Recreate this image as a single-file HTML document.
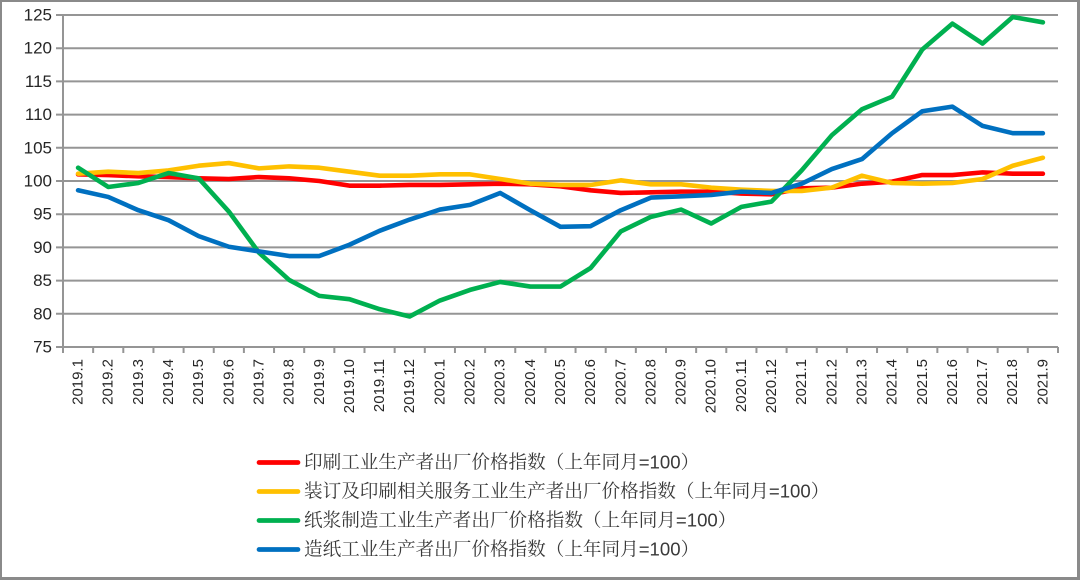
<!DOCTYPE html>
<html>
<head>
<meta charset="utf-8">
<style>
  html,body{margin:0;padding:0;background:#fff;}
  .wrap{position:relative;width:1080px;height:580px;overflow:hidden;background:#fff;}
  .frame{position:absolute;left:0;top:0;width:1075px;height:575px;border-left:2px solid #8a8a8a;border-top:2px solid #8a8a8a;border-right:3px solid #8a8a8a;border-bottom:3px solid #8a8a8a;}
  svg{position:absolute;left:0;top:0;}
</style>
</head>
<body>
<div class="wrap">
<svg width="1080" height="580" viewBox="0 0 1080 580" xmlns="http://www.w3.org/2000/svg">
  <g stroke="#959595" stroke-width="2" fill="none">
    <line x1="56" y1="15" x2="1058" y2="15"/>
    <line x1="56" y1="48.2" x2="1058" y2="48.2"/>
    <line x1="56" y1="81.4" x2="1058" y2="81.4"/>
    <line x1="56" y1="114.6" x2="1058" y2="114.6"/>
    <line x1="56" y1="147.8" x2="1058" y2="147.8"/>
    <line x1="56" y1="181" x2="1058" y2="181"/>
    <line x1="56" y1="214.2" x2="1058" y2="214.2"/>
    <line x1="56" y1="247.4" x2="1058" y2="247.4"/>
    <line x1="56" y1="280.6" x2="1058" y2="280.6"/>
    <line x1="56" y1="313.8" x2="1058" y2="313.8"/>
    <line x1="56" y1="347" x2="1058" y2="347"/>
    <line x1="63" y1="15" x2="63" y2="353"/>
  </g>
  <g stroke="#959595" stroke-width="2">
    <line x1="93.15" y1="347" x2="93.15" y2="353"/>
    <line x1="123.3" y1="347" x2="123.3" y2="353"/>
    <line x1="153.45" y1="347" x2="153.45" y2="353"/>
    <line x1="183.6" y1="347" x2="183.6" y2="353"/>
    <line x1="213.75" y1="347" x2="213.75" y2="353"/>
    <line x1="243.9" y1="347" x2="243.9" y2="353"/>
    <line x1="274.05" y1="347" x2="274.05" y2="353"/>
    <line x1="304.2" y1="347" x2="304.2" y2="353"/>
    <line x1="334.35" y1="347" x2="334.35" y2="353"/>
    <line x1="364.5" y1="347" x2="364.5" y2="353"/>
    <line x1="394.65" y1="347" x2="394.65" y2="353"/>
    <line x1="424.8" y1="347" x2="424.8" y2="353"/>
    <line x1="454.95" y1="347" x2="454.95" y2="353"/>
    <line x1="485.1" y1="347" x2="485.1" y2="353"/>
    <line x1="515.25" y1="347" x2="515.25" y2="353"/>
    <line x1="545.4" y1="347" x2="545.4" y2="353"/>
    <line x1="575.55" y1="347" x2="575.55" y2="353"/>
    <line x1="605.7" y1="347" x2="605.7" y2="353"/>
    <line x1="635.85" y1="347" x2="635.85" y2="353"/>
    <line x1="666" y1="347" x2="666" y2="353"/>
    <line x1="696.15" y1="347" x2="696.15" y2="353"/>
    <line x1="726.3" y1="347" x2="726.3" y2="353"/>
    <line x1="756.45" y1="347" x2="756.45" y2="353"/>
    <line x1="786.6" y1="347" x2="786.6" y2="353"/>
    <line x1="816.75" y1="347" x2="816.75" y2="353"/>
    <line x1="846.9" y1="347" x2="846.9" y2="353"/>
    <line x1="877.05" y1="347" x2="877.05" y2="353"/>
    <line x1="907.2" y1="347" x2="907.2" y2="353"/>
    <line x1="937.35" y1="347" x2="937.35" y2="353"/>
    <line x1="967.5" y1="347" x2="967.5" y2="353"/>
    <line x1="997.65" y1="347" x2="997.65" y2="353"/>
    <line x1="1027.8" y1="347" x2="1027.8" y2="353"/>
    <line x1="1058" y1="347" x2="1058" y2="353"/>
  </g>
  <g font-family="Liberation Sans, sans-serif" font-size="17" fill="#262626" text-anchor="end" dominant-baseline="central">
    <text x="52" y="15">125</text>
    <text x="52" y="48.2">120</text>
    <text x="52" y="81.4">115</text>
    <text x="52" y="114.6">110</text>
    <text x="52" y="147.8">105</text>
    <text x="52" y="181">100</text>
    <text x="52" y="214.2">95</text>
    <text x="52" y="247.4">90</text>
    <text x="52" y="280.6">85</text>
    <text x="52" y="313.8">80</text>
    <text x="52" y="347">75</text>
  </g>
  <g font-family="Liberation Sans, sans-serif" font-size="15" fill="#262626" text-anchor="end" dominant-baseline="central">
    <text transform="translate(78.1,359) rotate(-90)">2019.1</text>
    <text transform="translate(108.2,359) rotate(-90)">2019.2</text>
    <text transform="translate(138.4,359) rotate(-90)">2019.3</text>
    <text transform="translate(168.5,359) rotate(-90)">2019.4</text>
    <text transform="translate(198.7,359) rotate(-90)">2019.5</text>
    <text transform="translate(228.8,359) rotate(-90)">2019.6</text>
    <text transform="translate(259,359) rotate(-90)">2019.7</text>
    <text transform="translate(289.1,359) rotate(-90)">2019.8</text>
    <text transform="translate(319.3,359) rotate(-90)">2019.9</text>
    <text transform="translate(349.4,359) rotate(-90)">2019.10</text>
    <text transform="translate(379.6,359) rotate(-90)">2019.11</text>
    <text transform="translate(409.7,359) rotate(-90)">2019.12</text>
    <text transform="translate(439.9,359) rotate(-90)">2020.1</text>
    <text transform="translate(470,359) rotate(-90)">2020.2</text>
    <text transform="translate(500.2,359) rotate(-90)">2020.3</text>
    <text transform="translate(530.3,359) rotate(-90)">2020.4</text>
    <text transform="translate(560.5,359) rotate(-90)">2020.5</text>
    <text transform="translate(590.6,359) rotate(-90)">2020.6</text>
    <text transform="translate(620.8,359) rotate(-90)">2020.7</text>
    <text transform="translate(650.9,359) rotate(-90)">2020.8</text>
    <text transform="translate(681.1,359) rotate(-90)">2020.9</text>
    <text transform="translate(711.2,359) rotate(-90)">2020.10</text>
    <text transform="translate(741.4,359) rotate(-90)">2020.11</text>
    <text transform="translate(771.5,359) rotate(-90)">2020.12</text>
    <text transform="translate(801.7,359) rotate(-90)">2021.1</text>
    <text transform="translate(831.8,359) rotate(-90)">2021.2</text>
    <text transform="translate(862,359) rotate(-90)">2021.3</text>
    <text transform="translate(892.1,359) rotate(-90)">2021.4</text>
    <text transform="translate(922.3,359) rotate(-90)">2021.5</text>
    <text transform="translate(952.4,359) rotate(-90)">2021.6</text>
    <text transform="translate(982.6,359) rotate(-90)">2021.7</text>
    <text transform="translate(1012.7,359) rotate(-90)">2021.8</text>
    <text transform="translate(1042.9,359) rotate(-90)">2021.9</text>
  </g>
  <g transform="matrix(30.15 0 0 -6.64 78.08 845)" fill="none" stroke-linejoin="round" stroke-linecap="round">
    <polyline vector-effect="non-scaling-stroke" stroke="#FF0000" stroke-width="4.6"
      points="0,101.0 1,100.9 2,100.7 3,100.6 4,100.4 5,100.3 6,100.6 7,100.4 8,100.0 9,99.3 10,99.3 11,99.4 12,99.4 13,99.5 14,99.6 15,99.5 16,99.2 17,98.6 18,98.2 19,98.3 20,98.4 21,98.4 22,98.1 23,98.0 24,98.9 25,99.0 26,99.6 27,99.9 28,100.9 29,100.9 30,101.3 31,101.1 32,101.1"/>
    <polyline vector-effect="non-scaling-stroke" stroke="#FFC000" stroke-width="4.6"
      points="0,101.1 1,101.4 2,101.2 3,101.6 4,102.3 5,102.7 6,101.9 7,102.2 8,102.0 9,101.4 10,100.8 11,100.8 12,101.0 13,101.0 14,100.3 15,99.6 16,99.4 17,99.4 18,100.1 19,99.5 20,99.5 21,99.0 22,98.7 23,98.5 24,98.5 25,99.0 26,100.8 27,99.7 28,99.6 29,99.7 30,100.3 31,102.3 32,103.5"/>
    <polyline vector-effect="non-scaling-stroke" stroke="#00B050" stroke-width="4.6"
      points="0,102.0 1,99.1 2,99.7 3,101.2 4,100.4 5,95.4 6,89.2 7,85.1 8,82.7 9,82.2 10,80.7 11,79.6 12,82.0 13,83.6 14,84.8 15,84.1 16,84.1 17,86.9 18,92.4 19,94.6 20,95.7 21,93.6 22,96.1 23,96.9 24,101.6 25,106.9 26,110.8 27,112.7 28,119.8 29,123.7 30,120.7 31,124.7 32,123.9"/>
    <polyline vector-effect="non-scaling-stroke" stroke="#0070C0" stroke-width="4.6"
      points="0,98.6 1,97.6 2,95.6 3,94.1 4,91.7 5,90.1 6,89.4 7,88.7 8,88.7 9,90.4 10,92.5 11,94.2 12,95.7 13,96.4 14,98.2 15,95.6 16,93.1 17,93.2 18,95.6 19,97.5 20,97.7 21,97.9 22,98.4 23,98.2 24,99.6 25,101.8 26,103.3 27,107.2 28,110.5 29,111.2 30,108.3 31,107.2 32,107.2"/>
  </g>
  <g stroke-width="4.7" stroke-linecap="round">
    <line x1="259" y1="462.5" x2="298" y2="462.5" stroke="#FF0000"/>
    <line x1="259" y1="491.5" x2="298" y2="491.5" stroke="#FFC000"/>
    <line x1="259" y1="520.5" x2="298" y2="520.5" stroke="#00B050"/>
    <line x1="259" y1="549.5" x2="298" y2="549.5" stroke="#0070C0"/>
  </g>
  <g font-family="Liberation Sans, 'Noto Serif CJK SC', serif" font-size="18.6" fill="#3a3a3a" dominant-baseline="central">
    <text x="304" y="462">印刷工业生产者出厂价格指数（上年同月=100）</text>
    <text x="304" y="491">装订及印刷相关服务工业生产者出厂价格指数（上年同月=100）</text>
    <text x="304" y="520">纸浆制造工业生产者出厂价格指数（上年同月=100）</text>
    <text x="304" y="549">造纸工业生产者出厂价格指数（上年同月=100）</text>
  </g>
</svg>
<div class="frame"></div>
</div>
</body>
</html>
